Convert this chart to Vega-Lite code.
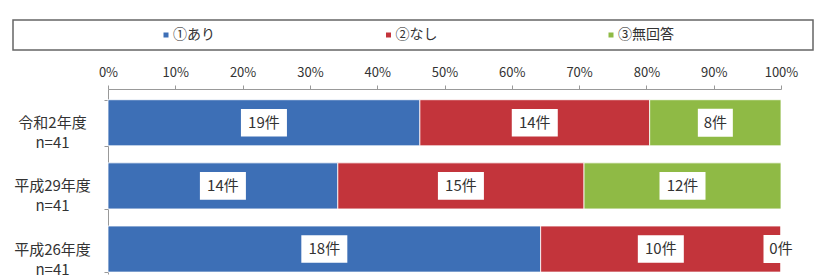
{
  "$schema": "https://vega.github.io/schema/vega-lite/v6.json",
  "background": "white",
  "padding": {"left": 12, "top": 19, "right": 2, "bottom": 0},
  "config": {"font": "Noto Sans CJK JP", "view": {"stroke": null}},
  "datasets": {
    "legend": [
      {"answer": "①あり"},
      {"answer": "②なし"},
      {"answer": "③無回答"}
    ],
    "main": [
      {"label": "令和2年度|n=41", "answer": "①あり", "n": 19, "txt": "19件"},
      {"label": "令和2年度|n=41", "answer": "②なし", "n": 14, "txt": "14件"},
      {"label": "令和2年度|n=41", "answer": "③無回答", "n": 8, "txt": "8件"},
      {"label": "平成29年度|n=41", "answer": "①あり", "n": 14, "txt": "14件"},
      {"label": "平成29年度|n=41", "answer": "②なし", "n": 15, "txt": "15件"},
      {"label": "平成29年度|n=41", "answer": "③無回答", "n": 12, "txt": "12件"},
      {"label": "平成26年度|n=41", "answer": "①あり", "n": 18, "txt": "18件"},
      {"label": "平成26年度|n=41", "answer": "②なし", "n": 10, "txt": "10件"},
      {"label": "平成26年度|n=41", "answer": "③無回答", "n": 0, "txt": "0件"}
    ]
  },
  "spacing": 15,
  "vconcat": [
    {
      "width": 800,
      "height": 30,
      "view": {"stroke": "#666", "strokeWidth": 1.5},
      "data": {"name": "legend"},
      "layer": [
        {
          "mark": {"type": "square", "size": 25, "opacity": 1},
          "encoding": {
            "x": {"field": "answer", "type": "nominal", "axis": null, "scale": {"type": "point", "padding": 0, "range": [153, 598]}},
            "color": {"field": "answer", "type": "nominal", "legend": null,
              "scale": {"domain": ["①あり", "②なし", "③無回答"], "range": ["#3d6fb6", "#c3343b", "#8fba45"]}}
          }
        },
        {
          "mark": {"type": "text", "align": "left", "baseline": "middle", "dx": 7, "fontSize": 14, "color": "#333"},
          "encoding": {
            "x": {"field": "answer", "type": "nominal", "axis": null, "scale": {"type": "point", "padding": 0, "range": [153, 598]}},
            "text": {"field": "answer"}
          }
        }
      ]
    },
    {
      "width": 800,
      "height": 185,
      "data": {"name": "main"},
      "layer": [
        {
          "mark": {"type": "bar", "stroke": "white", "strokeWidth": 0.8},
          "encoding": {
            "x": {"field": "n", "type": "quantitative", "stack": "normalize",
              "scale": {"domain": [0, 1], "range": [95, 768]},
              "axis": {"orient": "top", "title": null, "format": "%", "values": [0, 0.1, 0.2, 0.3, 0.4, 0.5, 0.6, 0.7, 0.8, 0.9, 1],
                "grid": false, "tickSize": 4, "labelPadding": 6, "labelFontSize": 13, "labelColor": "#333",
                "domainColor": "#999", "tickColor": "#999", "labelFlush": false}},
            "y": {"field": "label", "type": "nominal",
              "sort": ["令和2年度|n=41", "平成29年度|n=41", "平成26年度|n=41"],
              "scale": {"paddingInner": 0.27, "paddingOuter": 0.1, "align": 0.85},
              "axis": {"title": null, "offset": -95, "tickBand": "extent", "tickSize": 4, "labelAlign": "center", "labelPadding": 52,
                "labelFontSize": 15, "labelColor": "#333", "labelExpr": "split(datum.label, '|')", "labelLineHeight": 20,
                "labelBaseline": "middle", "domainColor": "#999", "tickColor": "#999"}},
            "color": {"field": "answer", "type": "nominal", "legend": null,
              "scale": {"domain": ["①あり", "②なし", "③無回答"], "range": ["#3d6fb6", "#c3343b", "#8fba45"]}}
          }
        },
        {
          "transform": [
            {"stack": "n", "groupby": ["label"], "sort": [{"field": "answer", "order": "ascending"}], "offset": "normalize", "as": ["x0", "x1"]},
            {"fold": ["x0", "x1"], "as": ["k", "v"]},
            {"aggregate": [{"op": "mean", "field": "v", "as": "mid"}], "groupby": ["label", "answer", "n", "txt"]}
          ],
          "layer": [
            {
              "mark": {"type": "point", "filled": true, "opacity": 1, "color": "white", "strokeWidth": 0},
              "encoding": {
                "x": {"field": "mid", "type": "quantitative"},
                "y": {"field": "label", "type": "nominal", "sort": ["令和2年度|n=41", "平成29年度|n=41", "平成26年度|n=41"]},
                "shape": {"condition": {"test": "datum.n >= 10", "value": "M-1,-0.6L1,-0.6L1,0.6L-1,0.6Z"}, "value": "M-1,-0.8L1,-0.8L1,0.8L-1,0.8Z"},
                "size": {"condition": {"test": "datum.n >= 10", "value": 2116}, "value": 1225}
              }
            },
            {
              "mark": {"type": "text", "align": "center", "baseline": "middle", "fontSize": 15, "color": "#333"},
              "encoding": {
                "x": {"field": "mid", "type": "quantitative"},
                "y": {"field": "label", "type": "nominal", "sort": ["令和2年度|n=41", "平成29年度|n=41", "平成26年度|n=41"]},
                "text": {"field": "txt"}
              }
            }
          ]
        }
      ]
    }
  ]
}
